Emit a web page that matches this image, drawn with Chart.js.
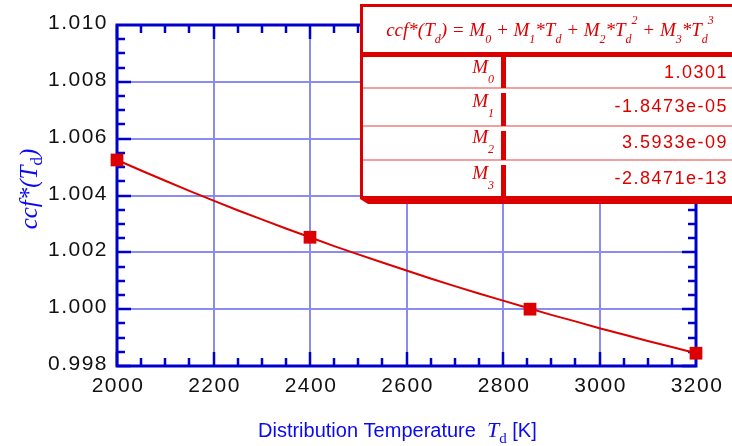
<!DOCTYPE html>
<html lang="en">
<head>
<meta charset="UTF-8">
<title>ccf*(Td) vs distribution temperature</title>
<script src="https://cdn.jsdelivr.net/npm/chart.js"></script>
<style>
    body { margin: 0; background: #fff; }
    #wrap { width: 732px; height: 446px; }
</style>
</head>
<body>
<div id="wrap"><canvas id="ccfChart" width="732" height="446"></canvas></div>
<script>
// fitted curve, read every 50 K
const tempK = [2000, 2050, 2100, 2150, 2200, 2250, 2300, 2350, 2400, 2450, 2500, 2550, 2600,
               2650, 2700, 2750, 2800, 2850, 2900, 2950, 3000, 3050, 3100, 3150, 3200];
const ccfCurve = [1.00525, 1.00488, 1.00452, 1.00416, 1.00382, 1.00348, 1.00316, 1.00284, 1.00253,
                  1.00222, 1.00193, 1.00164, 1.00136, 1.00108, 1.00081, 1.00055, 1.00030, 1.00005,
                  0.99980, 0.99957, 0.99933, 0.99911, 0.99888, 0.99867, 0.99845];
// measured points
const sampleT = [2000, 2400, 2856, 3200];
const sampleCcf = [1.00525, 1.00253, 1.00000, 0.99845];
// axes
const xTicks = [2000, 2200, 2400, 2600, 2800, 3000, 3200];
const yTicks = [0.998, 1.000, 1.002, 1.004, 1.006, 1.008, 1.010];
// fit coefficients
const coefIdx = ['0', '1', '2', '3'];
const coefValues = ['1.0301', '-1.8473e-05', '3.5933e-09', '-2.8471e-13'];

const RED = '#dd0000';
const BLUE = '#0000cc';
const SERIF = '"Liberation Serif", "Times New Roman", serif';
const SANS = '"Liberation Sans", Arial, sans-serif';

function drawRuns(ctx, runs, x, y, align) {
    let w = 0;
    runs.forEach(r => {
        ctx.font = r.f;
        ctx.letterSpacing = r.ls || '0px';
        r.w = ctx.measureText(r.t).width;
        w += r.w;
    });
    let cx = align === 'center' ? x - w / 2 : align === 'right' ? x - w : x;
    ctx.textAlign = 'left';
    ctx.textBaseline = 'alphabetic';
    runs.forEach(r => {
        ctx.font = r.f;
        ctx.letterSpacing = r.ls || '0px';
        ctx.fillText(r.t, cx, y + (r.dy || 0));
        cx += r.w;
    });
    ctx.letterSpacing = '0px';
}

const frame = {
    id: 'frame',
    beforeDraw(chart) {
        const ctx = chart.ctx;
        ctx.save();
        ctx.fillStyle = '#fff';
        ctx.fillRect(0, 0, chart.width, chart.height);
        ctx.restore();
    },
    beforeDatasetsDraw(chart) {
        const { ctx, chartArea: a, scales: { x, y } } = chart;
        ctx.save();
        ctx.strokeStyle = BLUE;
        ctx.lineWidth = 2.5;
        ctx.beginPath();
        // x ticks, top and bottom, 4 steps between majors
        for (let i = 0; i < xTicks.length - 1; i++) {
            const step = (xTicks[i + 1] - xTicks[i]) / 4;
            for (let k = 0; k < 4; k++) {
                const px = Math.round(x.getPixelForValue(xTicks[i] + k * step));
                const len = k === 0 ? 14 : 8;
                ctx.moveTo(px, a.bottom); ctx.lineTo(px, a.bottom - len);
                ctx.moveTo(px, a.top); ctx.lineTo(px, a.top + len);
            }
        }
        for (let i = 0; i < yTicks.length - 1; i++) {
            const step = (yTicks[i + 1] - yTicks[i]) / 4;
            for (let k = 0; k < 4; k++) {
                const py = Math.round(y.getPixelForValue(yTicks[i] + k * step));
                const len = k === 0 ? 14 : 8;
                ctx.moveTo(a.left, py); ctx.lineTo(a.left + len, py);
                ctx.moveTo(a.right, py); ctx.lineTo(a.right - len, py);
            }
        }
        ctx.stroke();
        ctx.lineWidth = 3;
        ctx.strokeRect(a.left, a.top, a.right - a.left, a.bottom - a.top);
        ctx.restore();
    },
    afterDraw(chart) {
        const { ctx, scales: { x, y } } = chart;
        ctx.save();

        // tick labels
        ctx.fillStyle = '#111';
        xTicks.forEach(v => {
            drawRuns(ctx, [{ t: String(v), f: '21px ' + SANS, ls: '1.5px' }], x.getPixelForValue(v) + 1, 392, 'center');
        });
        yTicks.forEach(v => {
            drawRuns(ctx, [{ t: v.toFixed(3), f: '21px ' + SANS, ls: '1.5px' }], 108, y.getPixelForValue(v) + 4, 'right');
        });

        // axis titles
        ctx.fillStyle = '#0a0af0';
        drawRuns(ctx, [
            { t: 'Distribution Temperature  ', f: '20px ' + SANS },
            { t: 'T', f: 'italic 22px ' + SERIF },
            { t: 'd', f: '15px ' + SERIF, dy: 6 },
            { t: ' [K]', f: '20px ' + SANS }
        ], 258, 437, 'left');

        ctx.save();
        ctx.translate(37, 189);
        ctx.rotate(-Math.PI / 2);
        drawRuns(ctx, [
            { t: 'ccf*(T', f: 'italic 25px ' + SERIF },
            { t: 'd', f: '17px ' + SERIF, dy: 5 },
            { t: ')', f: 'italic 25px ' + SERIF }
        ], 0, 0, 'center');
        ctx.restore();

        // coefficient table
        const L = 361, R = 732, T = 5;
        const rows = [[57, 88], [88, 126], [126, 160], [160, 197]];
        ctx.fillStyle = '#fff';
        ctx.fillRect(L, T, R - L, 197 - T);

        ctx.strokeStyle = '#ee8080';
        ctx.lineWidth = 1.5;
        ctx.beginPath();
        for (let i = 1; i < rows.length; i++) {
            ctx.moveTo(L, rows[i][0]); ctx.lineTo(R, rows[i][0]);
        }
        ctx.stroke();

        ctx.fillStyle = RED;
        ctx.fillRect(L - 1, T - 1, R - L + 1, 3);      // top border
        ctx.fillRect(L - 1, T - 1, 3, 199 - T);        // left border
        ctx.fillRect(L, 52, R - L, 5);                 // header rule
        ctx.beginPath();                               // bottom edge with shadow
        ctx.moveTo(L - 1, 196);
        ctx.lineTo(R, 196);
        ctx.lineTo(R, 204);
        ctx.lineTo(L + 7, 204);
        ctx.lineTo(L - 1, 199);
        ctx.closePath();
        ctx.fill();
        rows.forEach((r, i) => {
            const top = i === 0 ? r[0] : r[0] + 5;
            ctx.fillRect(501, top, 5, r[1] - top);
        });

        const it = 'italic 19px ' + SERIF, sm = 'italic 12px ' + SERIF;
        drawRuns(ctx, [
            { t: 'ccf*(T', f: it }, { t: 'd', f: sm, dy: 7 },
            { t: ') = M', f: it }, { t: '0', f: sm, dy: 7 },
            { t: ' + M', f: it }, { t: '1', f: sm, dy: 7 },
            { t: '*T', f: it }, { t: 'd', f: sm, dy: 7 },
            { t: ' + M', f: it }, { t: '2', f: sm, dy: 7 },
            { t: '*T', f: it }, { t: 'd', f: sm, dy: 7 }, { t: '2', f: sm, dy: -12 },
            { t: ' + M', f: it }, { t: '3', f: sm, dy: 7 },
            { t: '*T', f: it }, { t: 'd', f: sm, dy: 7 }, { t: '3', f: sm, dy: -12 }
        ], 550, 36, 'center');

        rows.forEach((r, i) => {
            const mid = (r[0] + r[1]) / 2;
            drawRuns(ctx, [
                { t: 'M', f: 'italic 19px ' + SERIF },
                { t: coefIdx[i], f: 'italic 12px ' + SERIF, dy: 10 }
            ], 494, mid, 'right');
            drawRuns(ctx, [{ t: coefValues[i], f: '18px ' + SANS, ls: '1.5px' }], 728, mid + 5, 'right');
        });

        ctx.restore();
    }
};

new Chart(document.getElementById('ccfChart'), {
    type: 'scatter',
    data: {
        datasets: [
            {
                data: tempK.map((t, i) => ({ x: t, y: ccfCurve[i] })),
                showLine: true,
                borderColor: RED,
                borderWidth: 2,
                pointRadius: 0,
                tension: 0,
                clip: false
            },
            {
                data: sampleT.map((t, i) => ({ x: t, y: sampleCcf[i] })),
                pointStyle: 'rect',
                pointRadius: 9,
                backgroundColor: RED,
                borderColor: RED,
                borderWidth: 0,
                clip: false
            }
        ]
    },
    options: {
        responsive: false,
        animation: false,
        events: [],
        layout: { padding: { left: 0, right: 36, top: 25, bottom: 0 } },
        plugins: { legend: { display: false }, tooltip: { enabled: false } },
        scales: {
            x: {
                type: 'linear',
                min: 2000, max: 3200,
                afterBuildTicks: s => { s.ticks = xTicks.map(v => ({ value: v })); },
                afterFit: s => { s.height = 80; },
                ticks: { display: false },
                grid: { color: '#8c8cf0', lineWidth: 2, drawTicks: false },
                border: { display: false }
            },
            y: {
                type: 'linear',
                min: 0.998, max: 1.010,
                afterBuildTicks: s => { s.ticks = yTicks.map(v => ({ value: v })); },
                afterFit: s => { s.width = 117; },
                ticks: { display: false },
                grid: { color: '#8c8cf0', lineWidth: 2, drawTicks: false },
                border: { display: false }
            }
        }
    },
    plugins: [frame]
});
</script>
</body>
</html>
